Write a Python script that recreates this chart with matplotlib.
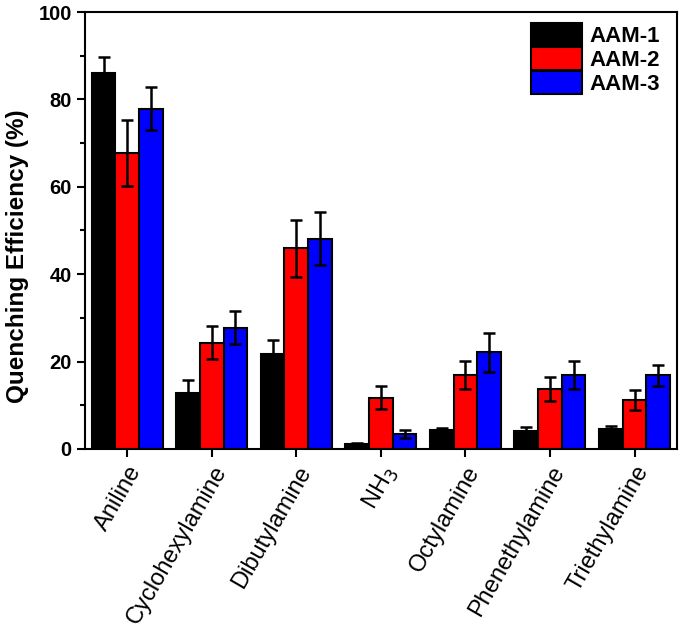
import numpy as np
import matplotlib
matplotlib.use("Agg")
import matplotlib.pyplot as plt

plt.rcParams['font.family'] = ['Liberation Sans', 'DejaVu Sans']

amines = ["Aniline", "Cyclohexylamine", "Dibutylamine", "NH$_3$",
          "Octylamine", "Phenethylamine", "Triethylamine"]
series = ["AAM-1", "AAM-2", "AAM-3"]
colors = ["#000000", "#ff0000", "#0000ff"]

aam1 = [86.0, 12.9, 21.7, 1.1, 4.3, 4.2, 4.6]
aam2 = [67.8, 24.3, 45.9, 11.7, 16.9, 13.7, 11.2]
aam3 = [77.9, 27.7, 48.1, 3.4, 22.1, 16.9, 16.8]
err1 = [3.7, 2.9, 3.2, 0.3, 0.4, 0.9, 0.7]
err2 = [7.6, 3.8, 6.5, 2.6, 3.2, 2.8, 2.3]
err3 = [5.0, 3.8, 6.1, 1.0, 4.4, 3.3, 2.3]

values = [aam1, aam2, aam3]
errors = [err1, err2, err3]

fig = plt.figure(figsize=(6.85, 6.34), dpi=100)
ax = fig.add_axes([0.124, 0.292, 0.864, 0.689])

x = np.arange(1, len(amines) + 1)
w = 0.28
for k in range(3):
    ax.bar(x + (k - 1) * w, values[k], w, color=colors[k], edgecolor="black",
           linewidth=1.5, label=series[k], zorder=2)
    ax.errorbar(x + (k - 1) * w, values[k], yerr=errors[k], fmt="none",
                ecolor="black", elinewidth=1.8, capsize=4.5, capthick=1.8, zorder=3)

ax.set_xlim(0.5, 7.5)
ax.set_ylim(0, 100)
ax.set_yticks(np.arange(0, 101, 20))
ax.set_yticks(np.arange(10, 100, 20), minor=True)
ax.set_xticks(x)
ax.set_xticklabels(amines, rotation=60, ha="right", rotation_mode="anchor", fontsize=17)
for lbl in ax.get_yticklabels():
    lbl.set_fontweight("bold")
    lbl.set_fontsize(14.5)
ax.tick_params(axis="both", which="major", direction="out", length=6, width=1.5)
ax.tick_params(axis="y", which="minor", direction="out", length=3.5, width=1.5)
for s in ax.spines.values():
    s.set_linewidth(1.5)
ax.set_ylabel("Quenching Efficiency (%)", fontsize=17.5, fontweight="bold")
ax.yaxis.set_label_coords(-0.094, 0.44)

leg = ax.legend(loc="upper right", bbox_to_anchor=(660 / 685, 1 - 23 / 634),
                bbox_transform=fig.transFigure, frameon=False,
                handlelength=2.3, handleheight=1.23, labelspacing=0.0,
                handletextpad=0.32, borderaxespad=0, borderpad=0,
                prop={"weight": "bold", "size": 16})

fig.savefig("out.png", dpi=100)
